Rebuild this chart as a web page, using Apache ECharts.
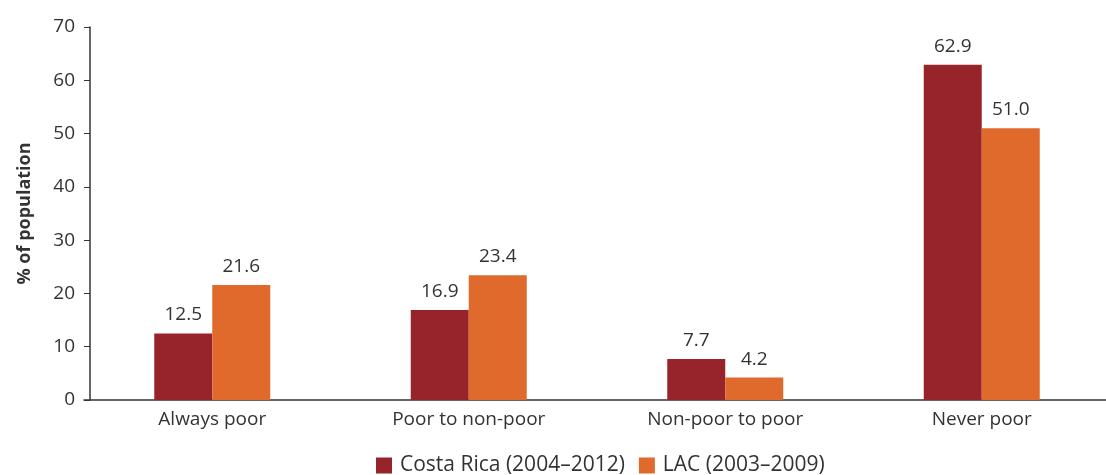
<!DOCTYPE html>
<html>
<head>
<meta charset="utf-8">
<script src="https://cdn.jsdelivr.net/npm/echarts@6/dist/echarts.min.js"></script>
<style>
  html, body { margin: 0; padding: 0; background: #fff; overflow: hidden; }
  /* the reference's last category runs past the right edge, so the canvas is a bit wider than the window */
  #chart { width: 1110px; height: 475px; }
</style>
</head>
<body>
<div id="chart"></div>
<script>
// categories and values
const categories = ['Always poor', 'Poor to non-poor', 'Non-poor to poor', 'Never poor'];
const costaRica = [12.5, 16.9, 7.7, 62.9];
const lac = [21.6, 23.4, 4.2, 51.0];
const seriesNames = ['Costa Rica (2004–2012)', 'LAC (2003–2009)'];

const textColor = '#333333';
const font = 'Open Sans';

const chart = echarts.init(document.getElementById('chart'));

const labelStyle = {
  show: true,
  position: 'top',
  distance: 9,
  color: textColor,
  fontFamily: font,
  fontSize: 19,
  formatter: (p) => p.value.toFixed(1),
};

chart.setOption({
  backgroundColor: '#fff',
  animation: false,
  grid: {
    left: 84,
    right: 0,
    top: 27,
    bottom: 75,
  },
  legend: {
    left: 371,
    bottom: -6,
    itemWidth: 16,
    itemHeight: 16,
    itemGap: 14,
    icon: 'rect',
    textStyle: { color: textColor, fontFamily: font, fontSize: 21, padding: [0, 0, 0, 3] },
    data: seriesNames,
  },
  xAxis: {
    type: 'category',
    data: categories,
    axisLine: { lineStyle: { color: textColor, width: 1.5 } },
    axisTick: { show: false },
    axisLabel: { color: textColor, fontFamily: font, fontSize: 19, margin: 10 },
  },
  yAxis: {
    type: 'value',
    min: 0,
    max: 70,
    interval: 10,
    offset: -6,
    name: '% of population',
    nameLocation: 'middle',
    nameGap: 56,
    nameTextStyle: { color: textColor, fontFamily: font, fontSize: 18, fontWeight: 'bold' },
    axisLine: { show: true, lineStyle: { color: textColor, width: 1.5 } },
    axisTick: { show: true, length: 6, lineStyle: { color: textColor } },
    axisLabel: { color: textColor, fontFamily: font, fontSize: 19, margin: 15 },
    splitLine: { show: false },
  },
  series: [
    {
      name: seriesNames[0],
      type: 'bar',
      data: costaRica,
      barWidth: 58,
      barGap: '0%',
      itemStyle: { color: '#97242B' },
      label: labelStyle,
    },
    {
      name: seriesNames[1],
      type: 'bar',
      data: lac,
      barWidth: 58,
      barGap: '0%',
      itemStyle: { color: '#E06A2B' },
      label: labelStyle,
    },
  ],
});
</script>
</body>
</html>
